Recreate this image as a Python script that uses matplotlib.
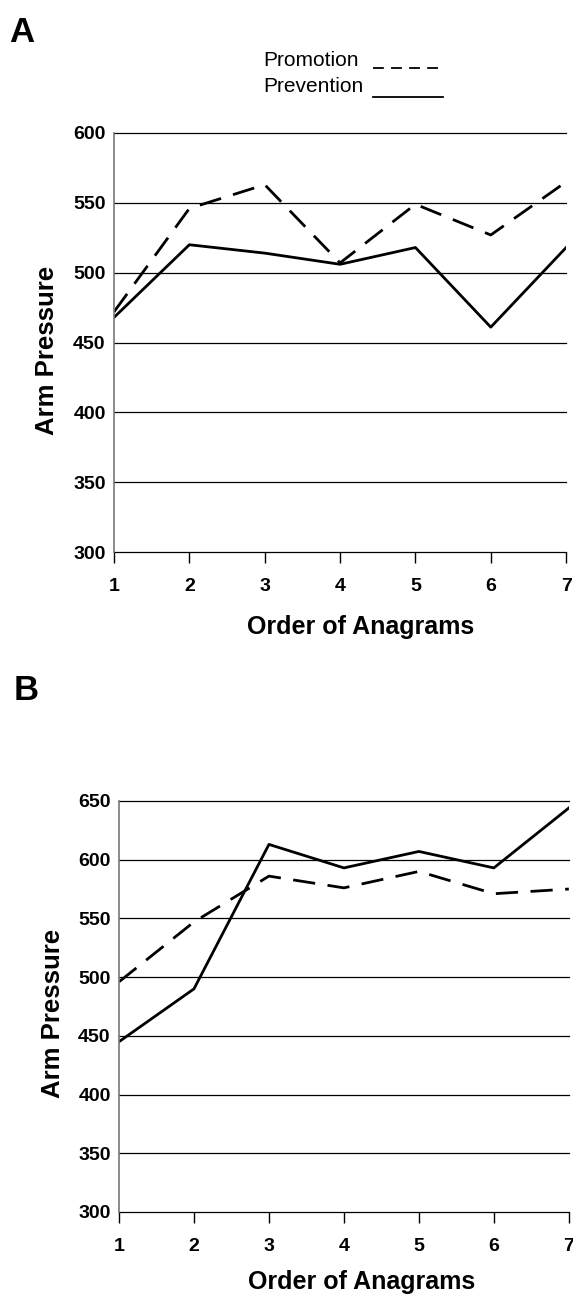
import matplotlib
matplotlib.use('Agg')
import matplotlib.pyplot as plt
from matplotlib.lines import Line2D

plt.rcParams['font.family'] = ['Liberation Sans', 'DejaVu Sans']

# order of anagrams
order = [1, 2, 3, 4, 5, 6, 7]

# panel A
a_promotion = [472, 546, 563, 507, 549, 527, 565]
a_prevention = [468, 520, 514, 506, 518, 461, 518]
a_yticks = [300, 350, 400, 450, 500, 550, 600]

# panel B
b_promotion = [496, 547, 586, 576, 590, 571, 575]
b_prevention = [445, 490, 613, 593, 607, 593, 644]
b_yticks = [300, 350, 400, 450, 500, 550, 600, 650]

fig = plt.figure(figsize=(5.73, 12.95), dpi=100)


def panel(rect, promo, prev, yticks, ylab_xy, xlab_xy):
    ax = fig.add_axes(rect)
    ax.plot(order, promo, color='black', lw=2.0, dashes=(8, 4.5), solid_capstyle='butt')
    ax.plot(order, prev, color='black', lw=2.0)
    ax.set_xlim(1, 7)
    ax.set_ylim(yticks[0], yticks[-1])
    ax.set_xticks(order)
    ax.set_yticks(yticks)
    for y in yticks:
        ax.axhline(y, color='black', lw=0.9, zorder=0, clip_on=False)
    for s in ['top', 'right', 'bottom']:
        ax.spines[s].set_visible(False)
    ax.spines['left'].set_color('#777777')
    ax.spines['left'].set_linewidth(1.2)
    ax.tick_params(axis='x', direction='out', length=8, width=1, pad=11, labelsize=14)
    ax.tick_params(axis='y', length=0, pad=6, labelsize=14)
    for lab in ax.get_xticklabels() + ax.get_yticklabels():
        lab.set_fontweight('bold')
    ax.set_ylabel('Arm Pressure', fontsize=18.5, fontweight='bold')
    ax.yaxis.set_label_coords(*ylab_xy)
    ax.set_xlabel('Order of Anagrams', fontsize=18, fontweight='bold')
    ax.xaxis.set_label_coords(*xlab_xy)
    return ax


axA = panel([0.199, 0.5737, 0.789, 0.3236], a_promotion, a_prevention, a_yticks,
            (-0.122, 0.482), (0.546, -0.150))
axB = panel([0.2077, 0.0641, 0.785, 0.3174], b_promotion, b_prevention, b_yticks,
            (-0.121, 0.484), (0.54, -0.141))

# panel letters
fig.text(9 / 573, 1 - 33 / 1295, 'A', fontsize=25, fontweight='bold', va='center', ha='left')
fig.text(14 / 573, 1 - 690 / 1295, 'B', fontsize=25, fontweight='bold', va='center', ha='left')

# legend (text followed by a line sample at the baseline)
fig.text(263 / 573, 1 - 61 / 1295, 'Promotion', fontsize=15, va='center', ha='left')
fig.text(263 / 573, 1 - 86 / 1295, 'Prevention', fontsize=15, va='center', ha='left')
fig.add_artist(Line2D([373 / 573, 439 / 573], [1 - 68 / 1295, 1 - 68 / 1295],
                      transform=fig.transFigure, color='black', lw=1.3, dashes=(6, 4)))
fig.add_artist(Line2D([373 / 573, 443 / 573], [1 - 97 / 1295, 1 - 97 / 1295],
                      transform=fig.transFigure, color='black', lw=1.3))

fig.savefig('out.png', dpi=100)
